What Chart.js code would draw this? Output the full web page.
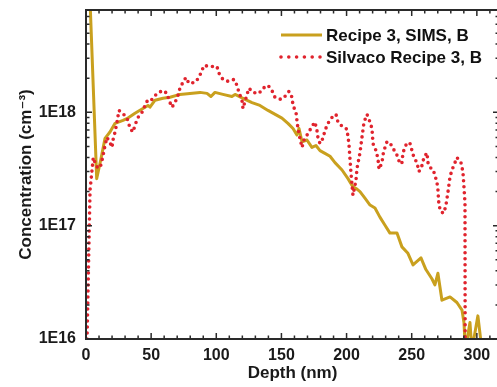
<!DOCTYPE html>
<html>
<head>
<meta charset="utf-8">
<script src="https://cdn.jsdelivr.net/npm/chart.js@4/dist/chart.umd.min.js"></script>
<style>
  html, body { margin: 0; padding: 0; background: #fff; overflow: hidden; }
</style>
</head>
<body>
<canvas id="profile" width="502" height="387"></canvas>
<script>
/* Recipe 3 boron profile: SIMS measurement vs Silvaco simulation */

// SIMS, depth in nm / concentration in cm^-3
const simsDepth = [1.5, 8.2, 11.3, 14.6, 18.4, 22.3, 28.4, 32.2, 37.6, 43.7,
  47.6, 49.1, 53.0, 59.1, 64.5, 72.1, 79.8, 87.5, 92.9, 95.9,
  99.0, 105.1, 112.0, 114.4, 120.5, 127.4, 133.5, 139.7, 146.6, 150.4,
  155.0, 158.9, 161.9, 163.5, 165.8, 169.6, 173.4, 176.5, 179.6, 183.4,
  187.3, 191.1, 196.5, 201.1, 204.9, 208.0, 210.3, 214.1, 218.0, 221.8,
  225.6, 229.5, 233.3, 238.7, 242.5, 247.1, 251.0, 257.1, 260.9, 265.5,
  267.8, 270.1, 273.2, 279.4, 284.7, 288.6, 290.1, 291.2, 294.7, 296.2,
  300.8, 303.9];
const simsConc = [3e19, 2.6e17, 3.8e17, 5.9e17, 6.7e17, 8.0e17, 8.5e17, 8.9e17, 9.8e17, 1.08e18,
  1.15e18, 1.11e18, 1.28e18, 1.33e18, 1.36e18, 1.44e18, 1.47e18, 1.50e18, 1.47e18, 1.38e18,
  1.50e18, 1.44e18, 1.38e18, 1.44e18, 1.33e18, 1.22e18, 1.15e18, 1.04e18, 9.4e17, 8.9e17,
  8.0e17, 7.2e17, 6.3e17, 7.2e17, 5.5e17, 5.7e17, 4.9e17, 5.1e17, 4.6e17, 4.35e17,
  4.1e17, 3.6e17, 3.1e17, 2.6e17, 2.2e17, 2.1e17, 2.0e17, 1.75e17, 1.52e17, 1.43e17,
  1.19e17, 1.01e17, 8.6e16, 8.6e16, 6.5e16, 5.7e16, 4.5e16, 5.2e16, 4.1e16, 3.4e16,
  3.0e16, 3.8e16, 2.2e16, 2.35e16, 2.1e16, 1.8e16, 1.4e16, 8e15, 1.4e16, 8e15,
  1.6e16, 8e15];

// Silvaco simulation
const silvacoDepth = [0.8, 3.1, 5.6, 6.9, 9.2, 11.3, 12.8, 14.6, 16.1, 18.4,
  20.0, 20.7, 22.3, 23.8, 25.3, 27.6, 29.9, 32.2, 33.8, 36.1,
  37.6, 39.9, 43.0, 45.3, 47.6, 50.7, 54.5, 59.1, 62.2, 63.7,
  66.0, 68.3, 70.6, 72.1, 74.4, 76.7, 79.0, 83.7, 86.7, 89.0,
  90.6, 95.2, 100.5, 102.1, 105.1, 109.0, 113.6, 115.9, 117.4, 119.7,
  120.5, 123.6, 125.1, 128.2, 132.8, 135.8, 139.7, 142.7, 145.0, 149.7,
  152.7, 155.8, 158.1, 158.9, 161.2, 161.9, 162.7, 164.2, 165.8, 167.3,
  170.4, 173.4, 175.7, 177.3, 178.0, 179.6, 181.9, 183.4, 185.7, 188.8,
  191.9, 193.4, 197.2, 200.3, 201.8, 202.6, 203.4, 204.9, 207.2, 208.0,
  210.3, 211.8, 213.4, 215.7, 218.0, 219.5, 220.3, 222.6, 224.1, 224.9,
  227.2, 227.9, 229.5, 231.0, 233.3, 235.6, 237.9, 239.4, 241.0, 242.5,
  243.3, 244.8, 246.4, 248.7, 250.2, 251.7, 254.0, 255.6, 257.9, 259.4,
  261.7, 262.5, 264.8, 266.3, 267.8, 269.4, 270.1, 270.5, 270.9, 272.4,
  274.7, 276.3, 277.8, 279.4, 280.9, 283.2, 284.7, 287.8, 289.3, 290.1,
  290.9, 291.2];
const silvacoConc = [1.0e16, 2.06e17, 4.0e17, 3.6e17, 3.2e17, 3.4e17, 4.0e17, 5.1e17, 6.0e17, 5.4e17,
  4.9e17, 5.7e17, 6.7e17, 8.2e17, 1.04e18, 9.8e17, 9.4e17, 8.5e17, 7.2e17, 6.7e17,
  7.7e17, 9.0e17, 1.0e18, 1.15e18, 1.30e18, 1.30e18, 1.47e18, 1.56e18, 1.47e18, 1.28e18,
  1.11e18, 1.22e18, 1.41e18, 1.63e18, 1.84e18, 2.03e18, 1.80e18, 1.84e18, 2.03e18, 2.34e18,
  2.59e18, 2.54e18, 2.54e18, 2.21e18, 1.95e18, 1.88e18, 1.95e18, 1.73e18, 1.50e18, 1.28e18,
  1.08e18, 1.44e18, 1.63e18, 1.50e18, 1.47e18, 1.63e18, 1.73e18, 1.56e18, 1.36e18, 1.30e18,
  1.38e18, 1.53e18, 1.36e18, 1.15e18, 1.0e18, 8.5e17, 7.2e17, 5.9e17, 4.9e17, 5.7e17,
  6.5e17, 7.5e17, 8.2e17, 6.9e17, 6.0e17, 5.3e17, 5.9e17, 6.9e17, 8.0e17, 9.0e17,
  9.6e17, 8.2e17, 7.4e17, 7.1e17, 5.3e17, 3.9e17, 2.9e17, 1.86e17, 2.5e17, 3.2e17,
  4.4e17, 6.0e17, 8.2e17, 9.6e17, 8.2e17, 7.2e17, 5.3e17, 4.6e17, 3.9e17, 3.15e17,
  3.6e17, 4.2e17, 4.9e17, 5.5e17, 5.4e17, 4.8e17, 4.4e17, 4.0e17, 3.5e17, 3.6e17,
  4.4e17, 4.9e17, 5.4e17, 5.3e17, 4.6e17, 4.0e17, 3.6e17, 3.0e17, 3.4e17, 4.0e17,
  4.4e17, 3.6e17, 3.2e17, 3.15e17, 2.8e17, 2.4e17, 2.1e17, 1.78e17, 1.52e17, 1.32e17,
  1.29e17, 1.52e17, 1.97e17, 2.7e17, 3.1e17, 3.6e17, 4.0e17, 3.6e17, 3.0e17, 2.2e17,
  1.58e17, 1e14];

// axis ticks
const depthTicks = [0, 50, 100, 150, 200, 250, 300];
const concDecades = [1e16, 1e17, 1e18];

const FONT = "'Liberation Sans', Arial, 'DejaVu Sans', sans-serif";
const INK = '#1a1a1a';

function toPoints(xs, ys) {
  return xs.map((x, i) => ({ x: x, y: ys[i] }));
}

/* Box frame with inward major/minor ticks, like the original plot */
const frameTicks = {
  id: 'frameTicks',
  afterDatasetsDraw(chart) {
    const { ctx, chartArea: a, scales: { x, y } } = chart;
    ctx.save();
    ctx.strokeStyle = '#2a2a2a';
    ctx.lineWidth = 2;
    ctx.strokeRect(a.left, a.top, a.right - a.left, a.bottom - a.top);

    ctx.lineWidth = 1.5;
    ctx.beginPath();
    for (let v = 0; v <= x.max; v += 10) {
      const px = x.getPixelForValue(v);
      const len = v % 50 === 0 ? 6 : 3.5;
      ctx.moveTo(px, a.bottom); ctx.lineTo(px, a.bottom - len);
      ctx.moveTo(px, a.top); ctx.lineTo(px, a.top + len);
    }
    concDecades.forEach(d => {
      for (let m = 1; m < 10; m++) {
        const v = m * d;
        if (v > y.max) break;
        const py = y.getPixelForValue(v);
        const len = m === 1 ? 6 : 3.5;
        ctx.moveTo(a.left, py); ctx.lineTo(a.left + len, py);
        ctx.moveTo(a.right, py); ctx.lineTo(a.right - len, py);
      }
    });
    ctx.stroke();
    ctx.restore();
  }
};

/* Legend drawn inside the plot, top right */
const insideLegend = {
  id: 'insideLegend',
  afterDraw(chart) {
    const ctx = chart.ctx;
    ctx.save();
    ctx.font = 'bold 17px ' + FONT;
    ctx.textBaseline = 'middle';
    chart.data.datasets.forEach((ds, i) => {
      const yy = 35 + i * 22;
      ctx.strokeStyle = ds.borderColor;
      ctx.lineWidth = ds.borderWidth;
      ctx.lineCap = ds.borderCapStyle || 'butt';
      ctx.setLineDash(ds.borderDash ? [0, 7.8] : []);
      ctx.beginPath();
      ctx.moveTo(281, yy);
      ctx.lineTo(ds.borderDash ? 321 : 322, yy);
      ctx.stroke();
      ctx.setLineDash([]);
      ctx.fillStyle = '#111';
      ctx.fillText(ds.label, 326, yy + 1);
    });
    ctx.restore();
  }
};

new Chart(document.getElementById('profile'), {
  type: 'line',
  data: {
    datasets: [
      {
        label: 'Recipe 3, SIMS, B',
        data: toPoints(simsDepth, simsConc),
        borderColor: '#c9a01e',
        borderWidth: 3,
        borderJoinStyle: 'round',
        pointRadius: 0,
        tension: 0,
        order: 1
      },
      {
        label: 'Silvaco Recipe 3, B',
        data: toPoints(silvacoDepth, silvacoConc),
        borderColor: '#e0232d',
        borderWidth: 3.6,
        borderDash: [0, 6],
        borderCapStyle: 'round',
        pointRadius: 0,
        tension: 0,
        order: 0
      }
    ]
  },
  options: {
    responsive: false,
    animation: false,
    layout: { padding: { top: 0, right: 3 } },
    plugins: {
      legend: { display: false },
      tooltip: { enabled: false }
    },
    scales: {
      x: {
        type: 'linear',
        min: 0,
        max: 317,
        grid: { display: false, drawTicks: false },
        border: { display: false },
        afterBuildTicks: s => { s.ticks = depthTicks.map(v => ({ value: v })); },
        afterFit: s => { s.height = 48; },
        ticks: {
          padding: 7,
          color: INK,
          maxRotation: 0,
          autoSkip: false,
          font: { family: FONT, size: 16, weight: 'bold' }
        },
        title: {
          display: true,
          text: 'Depth (nm)',
          color: INK,
          padding: { top: 0, bottom: 3 },
          font: { family: FONT, size: 17, weight: 'bold' }
        }
      },
      y: {
        type: 'logarithmic',
        min: 1e16,
        max: 8e18,
        grid: { display: false, drawTicks: false },
        border: { display: false },
        afterBuildTicks: s => { s.ticks = concDecades.map(v => ({ value: v })); },
        afterFit: s => { s.width = 86; s.paddingTop = 10; s.paddingBottom = 0; },
        ticks: {
          padding: 10,
          color: INK,
          autoSkip: false,
          font: { family: FONT, size: 16, weight: 'bold' },
          callback: v => '1E' + Math.round(Math.log10(v))
        },
        title: {
          display: true,
          text: 'Concentration (cm\u207B\u00B3)',
          color: INK,
          padding: { top: 16, bottom: 0 },
          font: { family: FONT, size: 17, weight: 'bold' }
        }
      }
    }
  },
  plugins: [frameTicks, insideLegend]
});
</script>
</body>
</html>
